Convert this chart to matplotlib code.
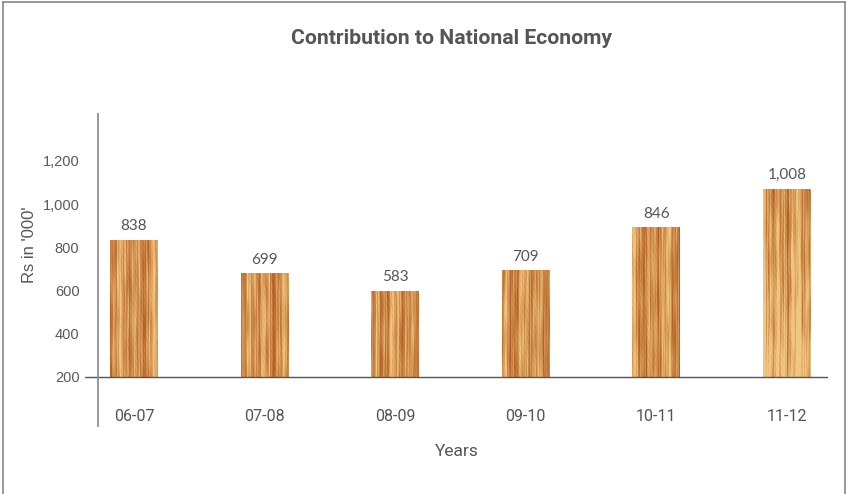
import numpy as np
import matplotlib
matplotlib.use("Agg")
import matplotlib.pyplot as plt
from matplotlib.lines import Line2D

# data
years = ["06-07", "07-08", "08-09", "09-10", "10-11", "11-12"]
value_labels = ["838", "699", "583", "709", "846", "1,008"]
# bar tops as drawn in the original (they don't follow the labels exactly)
bar_tops = [834, 677, 598, 691, 890, 1070]
y_ticks = [200, 400, 600, 800, 1000, 1200]

W, H = 846, 494
fig = plt.figure(figsize=(W / 100, H / 100), dpi=100)
fig.patch.set_facecolor("white")

# px helpers
def fx(px):
    return px / W

def fy(py):
    return 1 - py / H

# axes spans x 85..828 px, y 113..427 px
ax_l, ax_r, ax_t, ax_b = 85, 828, 113, 427
ax = fig.add_axes([fx(ax_l), fy(ax_b), fx(ax_r) - fx(ax_l), fy(ax_t) - fy(ax_b)])
for s in ax.spines.values():
    s.set_visible(False)

unit = 130.6  # px between bar centers
x0 = -(134 - ax_l) / unit
ppv = 0.216  # px per value unit
ax.set_ylim(200 - (ax_b - 377) / ppv, 200 + (377 - ax_t) / ppv)

xs = np.arange(len(years))
bar_w = 48 / unit

# wood grain: fixed set of streak frequencies/phases (texture only)
grain = [(0.37, 0.0, 0.18), (0.91, 1.3, 0.15), (1.73, 2.9, 0.12),
         (2.61, 0.7, 0.10), (3.97, 4.1, 0.09), (5.43, 2.2, 0.07),
         (0.19, 3.3, 0.12), (7.1, 1.1, 0.06), (9.3, 0.4, 0.05)]


def wood(h_px, w_px, k, light_bottom=False):
    yy, xx = np.mgrid[0:h_px, 0:w_px].astype(float)
    t = np.full_like(xx, 0.5)
    for j, (f, ph, a) in enumerate(grain):
        wob = 0.8 * np.sin(yy * (0.02 + 0.013 * j) + ph * k)
        t += a * np.sin(xx * f + ph + k * (j + 1) * 0.77 + wob)
    t += 0.06 * np.sin(yy * 0.7 + xx * 0.9 + k) * np.sin(xx * 2.3 + k)
    if light_bottom:
        t = t - 0.45 * (yy / h_px) ** 1.2
    t = np.clip(t, 0, 1)[..., None]
    dark = np.array([180, 96, 36]) / 255
    light = np.array([240, 198, 128]) / 255
    return light * (1 - t) + dark * t


bars = ax.bar(xs, [t - 200 for t in bar_tops], bottom=200, width=bar_w,
              color="none", edgecolor="none")
for i, b in enumerate(bars):
    h_px = int(round((bar_tops[i] - 200) * ppv))
    img = wood(max(h_px, 2), 48, i + 1, light_bottom=(i == 5))
    ax.imshow(img, extent=(xs[i] - bar_w / 2, xs[i] + bar_w / 2, 200, bar_tops[i]),
              aspect="auto", interpolation="bilinear", zorder=2)
    ax.text(xs[i], bar_tops[i] + 33, value_labels[i], ha="center", va="bottom",
            fontsize=11, color="#555555", family="Lato")

ax.set_xlim(x0, x0 + (ax_r - ax_l) / unit)

# x axis base line and left axis line
ax.axhline(200, color="#555555", lw=1.0, zorder=3)
yaxis_x = x0 + (98 - ax_l) / unit
ax.axvline(yaxis_x, color="#888888", lw=1.2, zorder=3)

ax.set_yticks(y_ticks)
ax.set_yticklabels([f"{v:,}" for v in y_ticks], fontsize=10.5, color="#5a5a5a",
                   family="Liberation Sans")
ax.tick_params(axis="y", length=0, pad=4)
ax.set_xticks([])

for i, yr in enumerate(years):
    ax.text(xs[i], 200 - (416 - 377) / ppv, yr, ha="center", va="center",
            fontsize=11.5, color="#555555", family="Roboto")

fig.text(fx(457), fy(451), "Years", ha="center", va="center", fontsize=12.5,
         color="#555555", family="Roboto")
fig.text(fx(29), fy(245), "Rs in '000'", ha="center", va="center", fontsize=12,
         color="#555555", family="Liberation Sans", rotation=90)
fig.text(fx(451), fy(38), "Contribution to National Economy", ha="center",
         va="center", fontsize=15.2, color="#555555", family="Roboto",
         weight="bold")

# outer frame
fig.add_artist(Line2D([fx(3), fx(3)], [fy(2), 0], transform=fig.transFigure,
                      color="#888888", lw=1.2))
fig.add_artist(Line2D([fx(845), fx(845)], [fy(2), 0], transform=fig.transFigure,
                      color="#888888", lw=1.2))
fig.add_artist(Line2D([fx(3), fx(845)], [fy(2), fy(2)], transform=fig.transFigure,
                      color="#888888", lw=1.2))

fig.savefig("out.png", dpi=100)
